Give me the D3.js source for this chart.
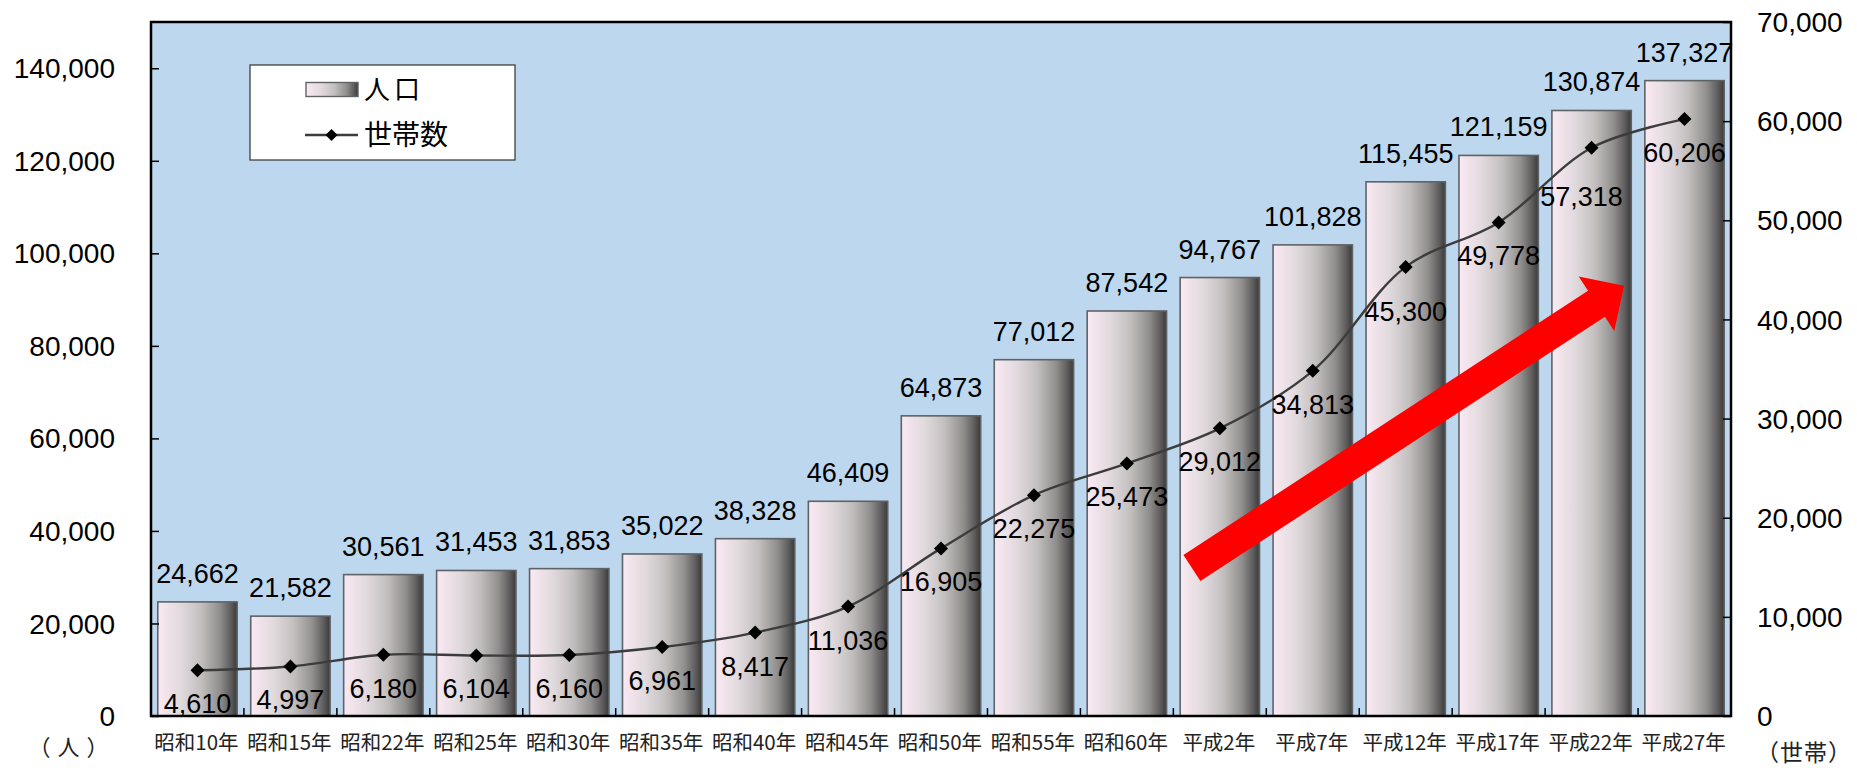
<!DOCTYPE html>
<html lang="ja">
<head>
<meta charset="utf-8">
<script src="https://cdn.jsdelivr.net/npm/d3@7"></script>
<style>
  html, body { margin: 0; padding: 0; background: #fff; }
  svg { display: block; }
  .num { font-family: "Liberation Sans", Arial, sans-serif; fill: #000; }
  .jp { font-family: "Noto Sans CJK JP", "Noto Sans", sans-serif; }
</style>
</head>
<body>
<svg id="chart" width="1857" height="768"></svg>
<script>
// 年次（国勢調査）
const categories = [
  "昭和10年", "昭和15年", "昭和22年", "昭和25年", "昭和30年", "昭和35年",
  "昭和40年", "昭和45年", "昭和50年", "昭和55年", "昭和60年",
  "平成2年", "平成7年", "平成12年", "平成17年", "平成22年", "平成27年"
];
// 人口（人）
const population = [
  24662, 21582, 30561, 31453, 31853, 35022, 38328, 46409, 64873,
  77012, 87542, 94767, 101828, 115455, 121159, 130874, 137327
];
// 世帯数（世帯）
const households = [
  4610, 4997, 6180, 6104, 6160, 6961, 8417, 11036, 16905,
  22275, 25473, 29012, 34813, 45300, 49778, 57318, 60206
];
// 軸目盛
const leftTicks = [0, 20000, 40000, 60000, 80000, 100000, 120000, 140000];
const rightTicks = [0, 10000, 20000, 30000, 40000, 50000, 60000, 70000];
const leftMax = 150000;
const rightMax = 70000;

// 世帯数ラベルの個別位置調整 [dx, dy]（線との重なり回避）
const householdLabelNudge = { 13: [0, 11], 15: [-10, 15] };

const svg = d3.select("#chart");
const plot = { left: 151, right: 1731, top: 22, bottom: 716 };

const x = d3.scaleBand()
  .domain(categories)
  .range([plot.left, plot.right])
  .paddingInner(0.146)
  .paddingOuter(0.073);
const yL = d3.scaleLinear().domain([0, leftMax]).range([plot.bottom, plot.top]);
const yR = d3.scaleLinear().domain([0, rightMax]).range([plot.bottom, plot.top]);
// カテゴリ幅単位の横位置（矢印の配置に使用）
const xStep = d3.scaleLinear().domain([0, categories.length]).range([plot.left, plot.right]);

const fmt = d3.format(",");

// 棒のグラデーション
const defs = svg.append("defs");
const grad = defs.append("linearGradient").attr("id", "barGrad")
  .attr("x1", "0%").attr("x2", "100%").attr("y1", "0%").attr("y2", "0%");
[
  [0, "#fae9f3"], [0.3, "#e0d9dc"], [0.55, "#c2bebe"],
  [0.78, "#918e8e"], [0.92, "#5e5c5c"], [1, "#3a3a3a"]
].forEach(([o, c]) => grad.append("stop").attr("offset", o).attr("stop-color", c));

// プロットエリア背景
svg.append("rect")
  .attr("x", plot.left).attr("y", plot.top)
  .attr("width", plot.right - plot.left).attr("height", plot.bottom - plot.top)
  .attr("fill", "#bdd7ee");

// 棒（人口）
svg.append("g").selectAll("rect").data(population).join("rect")
  .attr("x", (d, i) => x(categories[i]))
  .attr("y", d => yL(d))
  .attr("width", x.bandwidth())
  .attr("height", d => yL(0) - yL(d))
  .attr("fill", "url(#barGrad)")
  .attr("stroke", "#5f6366")
  .attr("stroke-width", 1.6);

// 折れ線（世帯数）
const cx = i => x(categories[i]) + x.bandwidth() / 2;
const line = d3.line()
  .x((d, i) => cx(i))
  .y(d => yR(d))
  .curve(d3.curveCatmullRom.alpha(0.5));
svg.append("path")
  .datum(households)
  .attr("d", line)
  .attr("fill", "none")
  .attr("stroke", "#3c3c3c")
  .attr("stroke-width", 2.4);

const diamond = r => `M0,${-r}L${r},0L0,${r}L${-r},0Z`;
svg.append("g").selectAll("path").data(households).join("path")
  .attr("transform", (d, i) => `translate(${cx(i)},${yR(d)})`)
  .attr("d", diamond(7))
  .attr("fill", "#000");

// 赤矢印（増加傾向）
(function drawArrow() {
  const tail = [xStep(11.2), yL(32000)];
  const tip = [xStep(15.85), yL(93000)];
  const dx = tip[0] - tail[0], dy = tip[1] - tail[1];
  const len = Math.hypot(dx, dy);
  const ux = dx / len, uy = dy / len;
  const px = -uy, py = ux;
  const shaftW = 15.5, headW = 32.5, headL = 33;
  const base = [tip[0] - ux * headL, tip[1] - uy * headL];
  const pt = (p, s) => [p[0] + px * s, p[1] + py * s];
  const pts = [
    pt(tail, -shaftW), pt(base, -shaftW), pt(base, -headW), tip,
    pt(base, headW), pt(base, shaftW), pt(tail, shaftW)
  ];
  svg.append("path")
    .attr("d", "M" + pts.map(p => p.join(",")).join("L") + "Z")
    .attr("fill", "#ff0000");
})();

// データラベル：人口
svg.append("g").selectAll("text").data(population).join("text")
  .attr("class", "num")
  .attr("x", (d, i) => cx(i))
  .attr("y", d => yL(d) - 19)
  .attr("text-anchor", "middle")
  .attr("font-size", 27)
  .text(d => fmt(d));

// データラベル：世帯数
svg.append("g").selectAll("text").data(households).join("text")
  .attr("class", "num")
  .attr("x", (d, i) => cx(i) + (householdLabelNudge[i] ? householdLabelNudge[i][0] : 0))
  .attr("y", (d, i) => yR(d) + 43 + (householdLabelNudge[i] ? householdLabelNudge[i][1] : 0))
  .attr("text-anchor", "middle")
  .attr("font-size", 27)
  .text(d => fmt(d));

// 左軸
const leftAxis = d3.axisRight(yL).tickValues(leftTicks).tickSize(8).tickFormat("");
svg.append("g").attr("transform", `translate(${plot.left},0)`).call(leftAxis)
  .call(g => g.select(".domain").remove())
  .call(g => g.selectAll(".tick line").attr("stroke", "#000").attr("stroke-width", 1.5));
svg.append("g").selectAll("text").data(leftTicks).join("text")
  .attr("class", "num")
  .attr("x", 115)
  .attr("y", d => yL(d))
  .attr("dy", "0.36em")
  .attr("text-anchor", "end")
  .attr("font-size", 28)
  .attr("fill", "#111")
  .text(d => fmt(d));

// 右軸
const rightAxis = d3.axisLeft(yR).tickValues(rightTicks).tickSize(8).tickFormat("");
svg.append("g").attr("transform", `translate(${plot.right},0)`).call(rightAxis)
  .call(g => g.select(".domain").remove())
  .call(g => g.selectAll(".tick line").attr("stroke", "#000").attr("stroke-width", 1.5));
svg.append("g").selectAll("text").data(rightTicks).join("text")
  .attr("class", "num")
  .attr("x", 1757)
  .attr("y", d => yR(d))
  .attr("dy", "0.36em")
  .attr("text-anchor", "start")
  .attr("font-size", 28)
  .attr("fill", "#111")
  .text(d => fmt(d));

// 横軸：区切り目盛
const boundaries = d3.range(1, categories.length).map(i => x(categories[i]) - x.step() * x.paddingInner() / 2);
svg.append("g").selectAll("line").data(boundaries).join("line")
  .attr("x1", d => d).attr("x2", d => d)
  .attr("y1", plot.bottom).attr("y2", plot.bottom - 8)
  .attr("stroke", "#000").attr("stroke-width", 1.5);

// 横軸ラベル
svg.append("g").selectAll("text").data(categories).join("text")
  .attr("class", "jp")
  .attr("x", (d, i) => cx(i) - 1)
  .attr("y", 743)
  .attr("dy", "0.36em")
  .attr("text-anchor", "middle")
  .attr("font-size", 20.5)
  .attr("fill", "#222")
  .text(d => d);

// プロットエリア枠
svg.append("rect")
  .attr("x", plot.left).attr("y", plot.top)
  .attr("width", plot.right - plot.left).attr("height", plot.bottom - plot.top)
  .attr("fill", "none")
  .attr("stroke", "#000")
  .attr("stroke-width", 2.5);

// 単位
svg.append("text").attr("class", "jp")
  .attr("x", 72).attr("y", 747).attr("dy", "0.36em")
  .attr("text-anchor", "middle").attr("font-size", 22).attr("fill", "#222")
  .attr("letter-spacing", 7)
  .text("（人）");
svg.append("text").attr("class", "jp")
  .attr("x", 1804).attr("y", 753).attr("dy", "0.36em")
  .attr("text-anchor", "middle").attr("font-size", 23).attr("fill", "#222")
  .attr("letter-spacing", 1)
  .text("（世帯）");

// 凡例
const lg = svg.append("g");
lg.append("rect")
  .attr("x", 250).attr("y", 65).attr("width", 265).attr("height", 95)
  .attr("fill", "#fff").attr("stroke", "#333").attr("stroke-width", 1.2);
lg.append("rect")
  .attr("x", 306).attr("y", 82.5).attr("width", 52).attr("height", 14)
  .attr("fill", "url(#barGrad)").attr("stroke", "#5f6366").attr("stroke-width", 1.4);
lg.append("text").attr("class", "jp")
  .attr("x", 364).attr("y", 89.5).attr("dy", "0.36em")
  .attr("font-size", 26).attr("fill", "#000")
  .attr("letter-spacing", 4)
  .text("人口");
lg.append("line")
  .attr("x1", 305).attr("x2", 358).attr("y1", 135).attr("y2", 135)
  .attr("stroke", "#3c3c3c").attr("stroke-width", 2.4);
lg.append("path")
  .attr("transform", "translate(331.5,135)")
  .attr("d", diamond(6))
  .attr("fill", "#000");
lg.append("text").attr("class", "jp")
  .attr("x", 364).attr("y", 135).attr("dy", "0.36em")
  .attr("font-size", 28).attr("fill", "#000")
  .text("世帯数");
</script>
</body>
</html>
